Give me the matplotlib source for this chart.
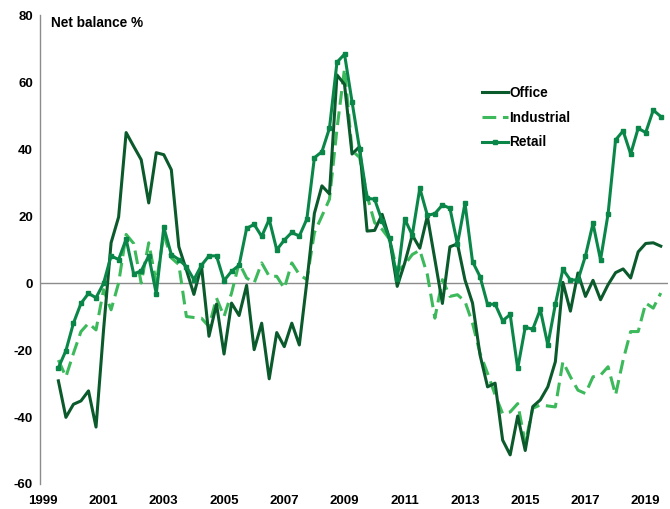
"""
Net balance % by sector (Office / Industrial / Retail), quarterly 1999-2019.
"""

import numpy as np
import matplotlib
matplotlib.use("Agg")
import matplotlib.pyplot as plt

plt.rcParams["font.family"] = ["Liberation Sans", "DejaVu Sans"]
plt.rcParams["font.weight"] = "bold"

# quarterly series, first value = mid-1999, last = mid-2019
office = [
    -29.2, -40.1, -36.2, -35.2, -32.2, -43.0, -14.0, 12.0, 19.7, 44.9,
    40.8, 36.8, 23.9, 38.9, 38.3, 33.8, 10.8, 3.9, -3.4, 5.2,
    -15.9, -6.3, -21.2, -6.0, -9.7, -0.7, -19.9, -12.0, -28.6, -14.8,
    -19.0, -12.0, -18.5, 0.4, 20.8, 29.0, 26.6, 62.1, 59.3, 38.5,
    40.7, 15.5, 15.7, 20.5, 13.0, -1.0, 6.0, 14.3, 10.4, 20.0,
    7.0, -6.1, 10.8, 11.7, 0.9, -6.0, -21.5, -31.0, -29.9, -46.9,
    -51.3, -39.7, -50.0, -36.9, -34.9, -31.0, -23.5, 0.2, -8.4, 3.0,
    -4.0, 0.8, -5.0, -0.5, 3.1, 4.2, 1.5, 9.3, 11.8, 12.0,
    11.0,
]
industrial = [
    -23.0, -28.0, -21.0, -14.5, -12.0, -14.0, -2.0, -8.0, 0.0, 14.5,
    11.8, 0.0, 12.0, 0.0, 14.5, 7.5, 5.5, -10.0, -10.3, -10.5,
    -13.0, -4.5, -10.0, -3.0, 6.0, 1.5, 0.0, 6.0, 2.0, 2.0,
    -1.6, 6.0, 2.5, 1.0, 15.0, 20.0, 25.0, 46.0, 64.0, 39.5,
    37.5, 26.0, 18.0, 16.0, 13.0, 3.5, 5.5, 8.5, 9.8, 2.5,
    -10.5, 1.0, -4.0, -3.5, -5.5, -12.0, -21.0, -27.0, -33.4, -39.0,
    -38.5, -36.0, -47.8, -37.4, -36.4, -36.7, -37.0, -23.5, -28.0, -32.0,
    -33.0, -28.0, -27.5, -25.0, -33.4, -23.0, -14.5, -14.5, -6.0, -7.5,
    -3.0,
]
retail = [
    -25.3, -20.2, -12.0, -6.1, -3.1, -4.4, -0.1, 8.1, 7.0, 13.1,
    2.7, 3.6, 8.1, -3.2, 16.6, 8.5, 7.0, 4.9, 1.0, 5.3,
    8.1, 8.1, 0.7, 3.5, 5.3, 16.3, 17.5, 13.9, 19.0, 9.9,
    12.8, 15.1, 14.0, 19.1, 37.4, 39.2, 46.2, 65.9, 68.3, 54.1,
    40.0, 25.3, 25.0, 18.5, 13.3, 1.2, 19.1, 14.3, 28.3, 20.2,
    20.7, 23.3, 22.3, 11.6, 23.8, 6.4, 1.9, -6.4, -6.3, -11.3,
    -9.4, -25.5, -13.2, -13.8, -7.9, -18.5, -6.4, 4.1, 0.9, 0.9,
    8.1, 17.8, 6.9, 20.6, 42.7, 45.4, 38.5, 46.2, 44.9, 51.6,
    49.7,
]

START = 1999.5
x = START + 0.25 * np.arange(len(office))

year_ticks = list(range(1999, 2020, 2))
y_ticks = [-60, -40, -20, 0, 20, 40, 60, 80]

C_OFFICE = "#0b5a2c"
C_INDUSTRIAL = "#3cb95a"
C_RETAIL = "#0a8748"

fig = plt.figure(figsize=(6.70, 5.09), dpi=100)
ax = fig.add_axes([40 / 670, 1 - 484 / 509, 628 / 670, 469 / 509])

ax.axhline(0, color="#8c8c8c", lw=1.0, zorder=1)
ax.plot(x, office, color=C_OFFICE, lw=2.2, label="Office", zorder=3)
ax.plot(x, industrial, color=C_INDUSTRIAL, lw=2.2, dashes=(4.5, 2.2),
        label="Industrial", zorder=2)
ax.plot(x, retail, color=C_RETAIL, lw=2.2, marker="s", ms=3.5,
        label="Retail", zorder=4)

ax.set_xlim(1998.89, 2019.74)
ax.set_ylim(-60, 80)
ax.set_xticks(year_ticks)
ax.set_xticklabels([str(y) for y in year_ticks], fontsize=9.5, fontweight="bold")
ax.set_yticks(y_ticks)
ax.set_yticklabels([str(v) for v in y_ticks], fontsize=9.5, fontweight="bold")
ax.tick_params(axis="both", length=0)
ax.tick_params(axis="x", pad=8)
ax.tick_params(axis="y", pad=5)

for s in ["top", "right", "bottom"]:
    ax.spines[s].set_visible(False)
ax.spines["left"].set_color("#8c8c8c")
ax.spines["left"].set_linewidth(1.0)

ax.text(0.018, 0.998, "Net balance %", transform=ax.transAxes,
        fontsize=9.8, fontweight="bold", va="top", ha="left")

leg = ax.legend(loc="upper left", bbox_to_anchor=(0.695, 0.86), frameon=False,
                fontsize=9.8, handlelength=1.9, handletextpad=0.1,
                labelspacing=0.78, borderaxespad=0)
for t in leg.get_texts():
    t.set_fontweight("bold")

fig.savefig("out.png", dpi=100)
